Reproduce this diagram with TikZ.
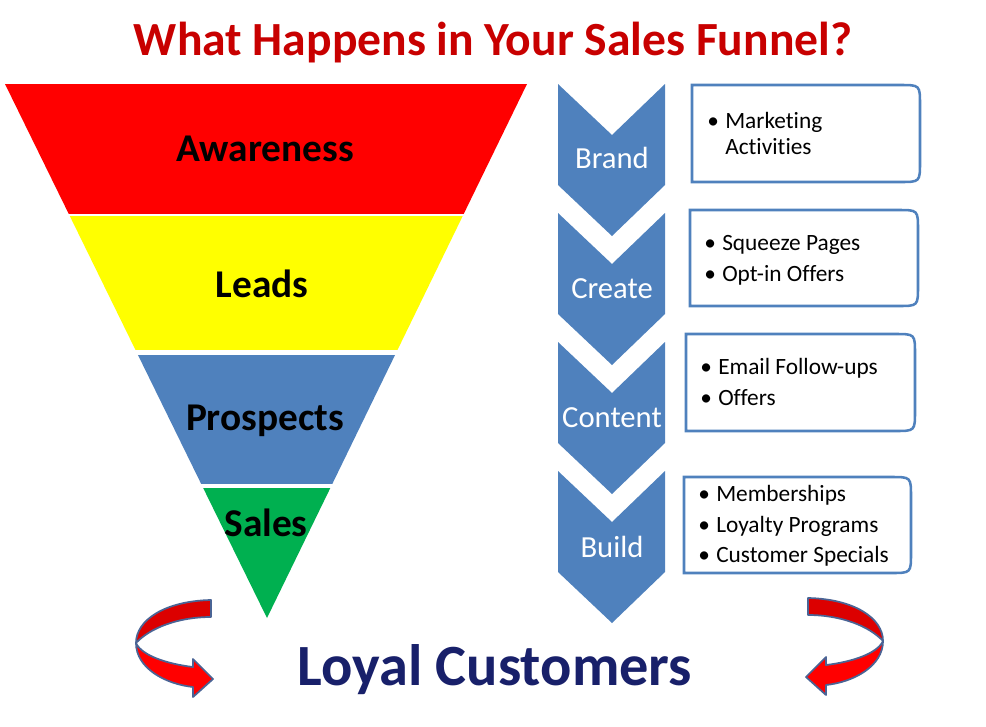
\documentclass[tikz,border=0pt]{standalone}
\usepackage{fontspec}
\setmainfont{Carlito}[Ligatures={NoCommon}]
\definecolor{fred}{HTML}{FF0000}
\definecolor{fyellow}{HTML}{FFFF00}
\definecolor{fblue}{HTML}{4F81BD}
\definecolor{fgreen}{HTML}{00B050}
\definecolor{titlered}{HTML}{C80000}
\definecolor{navy}{HTML}{18206A}
\definecolor{arrowedge}{HTML}{4A6495}
\definecolor{darkred}{HTML}{DC0000}
\newcommand\bul{\makebox[13.5pt][l]{•}}
\begin{document}
\begin{tikzpicture}[x=0.75pt,y=-0.75pt,
  bandlabel/.style={font=\bfseries\fontsize{29.5}{32}\selectfont, text=black, inner sep=0pt},
  chevlabel/.style={font=\fontsize{23}{26}\selectfont, text=white, inner sep=0pt, anchor=base},
  boxtext/.style={font=\fontsize{17.5}{20}\selectfont, text=black, inner sep=0pt, anchor=base west},
  boxframe/.style={draw=fblue, line width=1.9pt, fill=white},
  gap/.style={draw=white},
  arrowpart/.style={draw=arrowedge, line width=1.3pt, line join=round}]
\useasboundingbox (0,0) rectangle (986,726);

% Title
\node[anchor=base, font=\bfseries\fontsize{35.7}{40}\selectfont, text=titlered, inner sep=0pt] (title) at (493,55) {What Happens in Your Sales Funnel?};

% Funnel
\fill[fred] (5,84) -- (527,84) -- (463.2,215) -- (69.3,215) -- cycle;
\fill[fyellow] (69.3,215) -- (463.2,215) -- (396.5,352) -- (136.5,352) -- cycle;
\fill[fblue] (136.5,352) -- (396.5,352) -- (331.3,486) -- (202.2,486) -- cycle;
\fill[fgreen] (202.2,486) -- (331.3,486) -- (267,618) -- cycle;
\draw[gap, line width=2pt] (0,215) -- (540,215);
\draw[gap, line width=3.2pt] (0,352.5) -- (540,352.5);
\draw[gap, line width=2.3pt] (0,486) -- (540,486);

\node[bandlabel] (awareness) at (265,149) {Awareness};
\node[bandlabel] (leads) at (262,284) {Leads};
\node[bandlabel] (prospects) at (265,421) {Prospects};
\node[bandlabel] (sales) at (266,523) {Sales};

% Chevrons
\foreach \t in {84,213,342,471}{
  \fill[fblue] (558,\t) -- (612,\t+51) -- (665,\t) -- (665,\t+101) -- (612,\t+152) -- (558,\t+101) -- cycle;
}
\node[chevlabel] (brand) at (612,168) {Brand};
\node[chevlabel] (create) at (612,298) {Create};
\node[chevlabel] (content) at (612,427) {Content};
\node[chevlabel] (build) at (612,557) {Build};

% Boxes
\foreach \xa/\ya/\xb/\yb in {692/85/920/182, 690/210/918/306, 686/334/915/431, 684/477/911/573}{
  \draw[boxframe] (\xa,\ya) -- (\xb-20,\ya) .. controls (\xb,\ya) .. (\xb,\ya+20) -- (\xb,\yb-20) .. controls (\xb,\yb) .. (\xb-20,\yb) -- (\xa,\yb) -- cycle;
}
\node[boxtext] (b1a) at (707,128) {\bul Marketing};
\node[boxtext] (b1b) at (725,154) {Activities};
\node[boxtext] (b2a) at (704,250) {\bul Squeeze Pages};
\node[boxtext] (b2b) at (704,281) {\bul Opt-in Offers};
\node[boxtext] (b3a) at (700,374) {\bul Email Follow-ups};
\node[boxtext] (b3b) at (700,405) {\bul Offers};
\node[boxtext] (b4a) at (698,501) {\bul Memberships};
\node[boxtext] (b4b) at (698,532) {\bul Loyalty Programs};
\node[boxtext] (b4c) at (698,562) {\bul Customer Specials};

% Loyal Customers
\node[anchor=base, font=\bfseries\fontsize{43.8}{48}\selectfont, text=navy, inner sep=0pt] (loyal) at (495,685) {Loyal Customers};

% Curved arrows
\newcommand\curvearrow{%
  \filldraw[arrowpart, fill=darkred] (211,600) .. controls (165,601) and (136,620) .. (136,643)
     .. controls (150,628) and (178,617) .. (211,617) -- cycle;
  \filldraw[arrowpart, fill=fred] (136,643) .. controls (136,668) and (165,684) .. (193,687)
     -- (193,697) -- (213,679) -- (193,659) -- (193,667)
     .. controls (168,664) and (142,656) .. (136,643) -- cycle;
}
\curvearrow
\begin{scope}[shift={(1019,-2)}, xscale=-1]
\curvearrow
\end{scope}
\end{tikzpicture}
\end{document}
